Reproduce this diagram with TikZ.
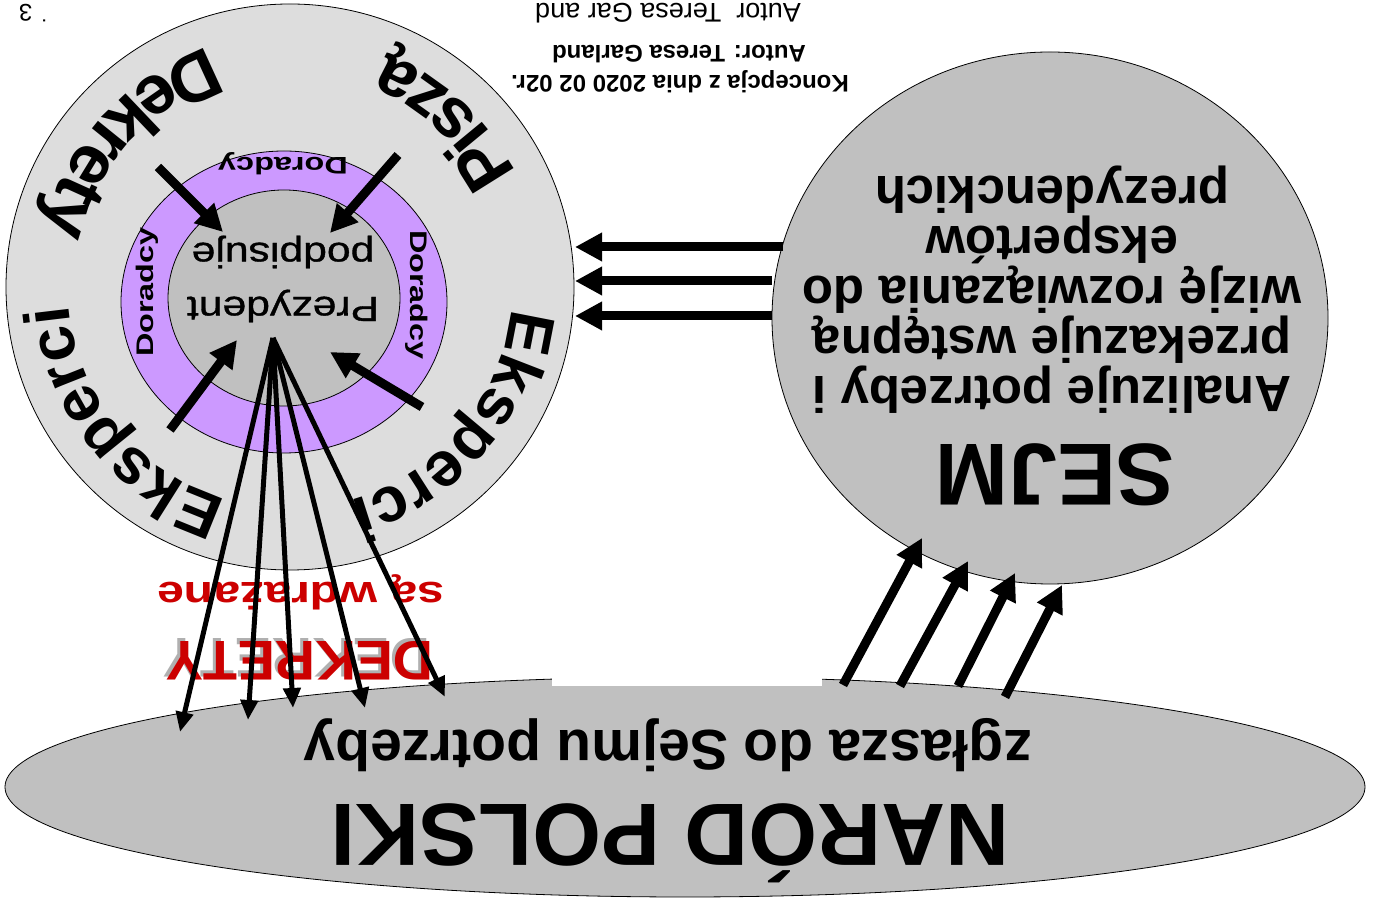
\documentclass[tikz,border=0pt]{standalone}
\usepackage{fontspec}
\setmainfont{Liberation Sans}
\newfontfamily\doradFont[FakeStretch=1.35]{Liberation Sans}
\newfontfamily\prezFont[FakeStretch=1.22,FakeBold=1]{Liberation Sans}
\newfontfamily\wdrazFont[FakeStretch=1.27]{Liberation Sans}
\usetikzlibrary{shapes.geometric,arrows.meta,decorations.text}
\definecolor{pwGrey}{HTML}{C0C0C0}
\definecolor{pwLight}{HTML}{DDDDDD}
\definecolor{pwViolet}{HTML}{CC99FF}
\definecolor{pwRed}{HTML}{CC0000}
\definecolor{pwShadow}{HTML}{B0B0B0}

\begin{document}
\begin{tikzpicture}[x=1pt,y=1pt]
    \tikzset{
        blob/.style={ellipse,draw=black,line width=0.8pt,inner sep=0pt,outer sep=0pt},
        flip/.style={rotate=180,inner sep=0pt,anchor=base},
        fat/.style={line width=9pt,-{Triangle[length=27pt,width=27pt]}},
        fanarrow/.style={line width=5pt,-{Triangle[length=20pt,width=17pt]}},
        curvy/.style 2 args={decorate,decoration={text along path,text align=center,
            text={|\fontsize{#2}{#2}\selectfont\bfseries|#1}}}
    }
    \useasboundingbox (0,0) rectangle (1379,899);
    \fill[white] (0,0) rectangle (1379,899);

    % shapes
    \node[blob,fill=pwGrey,minimum width=1360pt,minimum height=220pt] (narod) at (685,112) {};
    \fill[white] (552,213) rectangle (822,240);
    \node[blob,fill=pwGrey,minimum width=556pt,minimum height=532pt] (sejm) at (1050,581) {};
    \node[blob,fill=pwLight,minimum width=568pt,minimum height=566pt] (outer) at (290,612) {};
    \node[blob,fill=pwViolet,minimum width=326pt,minimum height=302pt] (ring) at (284,597) {};
    \node[blob,fill=pwGrey,minimum width=232pt,minimum height=216pt] (inner) at (284,601) {};

    % texts
    \node[flip,font=\fontsize{88.5}{88.5}\selectfont\bfseries] (narodT) at (670,94) {NARÓD POLSKI};
    \node[flip,font=\fontsize{57}{57}\selectfont\bfseries] (zglasza) at (668,168) {zgłasza do Sejmu potrzeby};
    \node[flip,font=\fontsize{88}{88}\selectfont\bfseries] (sejmT) at (1055,454) {SEJM};
    \node[rotate=180,inner sep=0pt,align=center,font=\fontsize{51}{50}\selectfont\bfseries] (sejmOpis) at (1052,609)
        {Analizuje potrzeby i\\przekazuje wstępną\\wizję rozwiązania do\\ekspertów\\prezydenckich};
    \node[rotate=180,inner sep=0pt,align=center,font=\prezFont\fontsize{35}{54}\selectfont] (prezT) at (283,620)
        {Prezydent\\podpisuje};
    \node[rotate=180,inner sep=0pt,font=\doradFont\fontsize{24}{24}\selectfont\bfseries] (doradcy1) at (283,735) {Doradcy};
    \node[rotate=90,inner sep=0pt,font=\doradFont\fontsize{24}{24}\selectfont\bfseries] (doradcy2) at (147,607) {Doradcy};
    \node[rotate=270,inner sep=0pt,font=\doradFont\fontsize{24}{24}\selectfont\bfseries] (doradcy3) at (417,604) {Doradcy};
    \node[flip,text=pwShadow,font=\fontsize{56}{56}\selectfont\bfseries] (dekShadow) at (297,260) {DEKRETY};
    \node[flip,text=pwRed,font=\fontsize{56}{56}\selectfont\bfseries] (dekrety) at (300,257) {DEKRETY};
    \node[flip,text=pwRed,font=\wdrazFont\fontsize{38}{38}\selectfont\bfseries] (wdrazane) at (301,316) {są wdrażane};
    \node[flip,font=\fontsize{24}{24}\selectfont\bfseries] (koncepcja) at (680,823) {Koncepcja z dnia 2020 02 02r.};
    \node[flip,font=\fontsize{24}{24}\selectfont\bfseries] (autor) at (679,853) {Autor: Teresa Garland};
    \node[flip,font=\fontsize{27}{27}\selectfont] (autorGora) at (668,895) {Autor\ \ Teresa Gar and};
    \node[flip,font=\fontsize{24}{24}\selectfont] (strona) at (33,894) {˙ 3};

    % curved words
    \coordinate (oc) at (290,612);
    \path[curvy={Dekrety}{70}] ([shift={(95:253)}]oc) arc[start angle=95,end angle=181,radius=253];
    \path[curvy={Piszą}{70}] ([shift={(4:253)}]oc) arc[start angle=4,end angle=90,radius=253];
    \path[curvy={Eksperci}{64}] ([shift={(264:222)}]oc) arc[start angle=264,end angle=174,radius=222];
    \path[curvy={Eksperci}{64}] ([shift={(365:222)}]oc) arc[start angle=365,end angle=275,radius=222];

    % arrows
    \foreach \i/\x/\y in {1/783/652, 2/772/618, 3/772/583}{
        \coordinate (sw\i) at (\x,\y);
        \coordinate (pe\i) at (575,\y);
        \draw[fat] (sw\i) -- (pe\i);}
    \foreach \i/\xa/\ya/\xb/\yb in {1/843/214/922/361, 2/900/213/968/338, 3/958/213/1015/326, 4/1005/202/1062/314}{
        \coordinate (np\i) at (\xa,\ya);
        \coordinate (sj\i) at (\xb,\yb);
        \draw[fat] (np\i) -- (sj\i);}
    \foreach \i/\xa/\ya/\xb/\yb in {1/158/732/223/667, 2/398/744/330/666, 3/170/469/237/559, 4/422/492/330/547}{
        \coordinate (ek\i) at (\xa,\ya);
        \coordinate (pr\i) at (\xb,\yb);
        \draw[fat] (ek\i) -- (pr\i);}
    \coordinate (fan) at (273,561);
    \foreach \i/\x/\y in {1/180/167, 2/248/179, 3/293/191, 4/365/191, 5/445/202}{
        \coordinate (dk\i) at (\x,\y);
        \draw[fanarrow] (fan) -- (dk\i);}
\end{tikzpicture}
\end{document}
